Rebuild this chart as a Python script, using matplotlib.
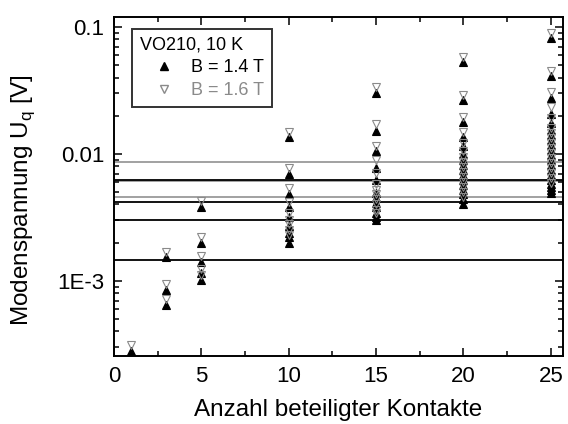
import matplotlib
matplotlib.use('Agg')
import matplotlib.pyplot as plt
from matplotlib.lines import Line2D
from matplotlib.ticker import FixedLocator, LogLocator, NullFormatter, MultipleLocator

plt.rcParams.update({'font.family': ['Liberation Sans', 'DejaVu Sans'],
                     'mathtext.fontset': 'custom', 'mathtext.rm': 'Liberation Sans',
                     'font.size': 16})

# ── Daten: Modenspannung je Anzahl beteiligter Kontakte ──
u_14T = {
    1: [2.8e-4],
    3: [1.54e-3, 8.4e-4, 6.4e-4],
    5: [3.83e-3, 1.99e-3, 1.41e-3, 1.16e-3, 1.02e-3],
    10: [0.0135, 0.0070, 0.0048, 0.0038, 0.0032, 0.0027, 0.0024, 0.0022, 0.0020],
    15: [0.0301, 0.0152, 0.0106, 0.0077, 0.0062, 0.0049, 0.0045, 0.0041, 0.0038,
         0.0034, 0.0032, 0.0030],
    20: [0.0527, 0.0266, 0.0178, 0.0135, 0.0116, 0.0100, 0.0090, 0.0082, 0.0075,
         0.0068, 0.0062, 0.0057, 0.0052, 0.0048, 0.0044, 0.0040],
    25: [0.0815, 0.0412, 0.0275, 0.0207, 0.0174, 0.0155, 0.0141, 0.0129, 0.0118,
         0.0107, 0.0098, 0.0090, 0.0082, 0.0075, 0.0068, 0.0062, 0.0058, 0.0055,
         0.0052, 0.0049],
}
u_16T = {
    1: [3.1e-4],
    3: [1.70e-3, 9.5e-4, 7.2e-4],
    5: [4.27e-3, 2.22e-3, 1.57e-3, 1.24e-3, 1.11e-3],
    10: [0.0150, 0.0077, 0.0054, 0.0042, 0.0034, 0.0030, 0.0028, 0.0025, 0.0023],
    15: [0.0339, 0.0171, 0.0116, 0.0090, 0.0071, 0.0058, 0.0052, 0.0048, 0.0044,
         0.0040, 0.0036, 0.0034],
    20: [0.0577, 0.0292, 0.0195, 0.0150, 0.0123, 0.0106, 0.0095, 0.0087, 0.0079,
         0.0072, 0.0066, 0.0060, 0.0055, 0.0050, 0.0046],
    25: [0.0902, 0.0453, 0.0310, 0.0233, 0.0191, 0.0160, 0.0146, 0.0134, 0.0122,
         0.0112, 0.0102, 0.0093, 0.0085, 0.0078, 0.0071, 0.0065, 0.0059],
}
# horizontale Linien (schwarz / grau)
hl_black = [0.00624, 0.00417, 0.00302, 0.00145]
hl_gray = [0.00870, 0.00607, 0.00461]

y_ticks = [1e-3, 0.01, 0.1]
y_ticklabels = ['1E-3', '0.01', '0.1']

GRAY = '#8a8a8a'

fig = plt.figure(figsize=(5.68, 4.24), dpi=100)
ax = fig.add_axes([0.2007, 0.1604, 0.7905, 0.7995])

for v in hl_gray:
    ax.axhline(v, color='#9a9a9a', lw=1.3, zorder=1)
for v in hl_black:
    ax.axhline(v, color='k', lw=1.3, zorder=1)

for n, vals in u_14T.items():
    ax.plot([n] * len(vals), vals, ls='none', marker='^', ms=5.8,
            mfc='k', mec='k', mew=0.8, zorder=3)
for n, vals in u_16T.items():
    ax.plot([n] * len(vals), vals, ls='none', marker='v', ms=5.8,
            mfc='none', mec=GRAY, mew=0.8, zorder=4)

ax.set_yscale('log')
ax.set_xlim(0, 25.7)
ax.set_ylim(2.56e-4, 0.12)
ax.xaxis.set_major_locator(MultipleLocator(5))
ax.xaxis.set_minor_locator(MultipleLocator(2.5))
ax.yaxis.set_major_locator(FixedLocator(y_ticks))
ax.set_yticklabels(y_ticklabels)
ax.yaxis.set_minor_locator(LogLocator(base=10, subs=range(2, 10)))
ax.yaxis.set_minor_formatter(NullFormatter())
ax.tick_params(which='both', direction='in', top=True, right=True, width=1.1)
ax.tick_params(which='major', length=6, pad=7, labelsize=16)
ax.tick_params(which='minor', length=3.5)
for s in ax.spines.values():
    s.set_linewidth(1.4)

ax.set_xlabel('Anzahl beteiligter Kontakte', fontsize=17.5, labelpad=9)
ax.set_ylabel('Modenspannung U$_\\mathregular{q}$ [V]', fontsize=17.5)
ax.yaxis.set_label_coords(-0.172, 0.46)

handles = [Line2D([], [], ls='none', marker='^', ms=6, mfc='k', mec='k'),
           Line2D([], [], ls='none', marker='v', ms=6, mfc='none', mec=GRAY)]
leg = ax.legend(handles, ['B = 1.4 T', 'B = 1.6 T'], title='VO210, 10 K',
                loc='upper left', bbox_to_anchor=(0.040, 0.965), fontsize=13,
                title_fontsize=13, alignment='left', frameon=True, fancybox=False,
                edgecolor='k', handlelength=2.6, handletextpad=0.2,
                labelspacing=0.3, borderpad=0.45, borderaxespad=0,
                labelcolor=['k', GRAY])
leg.get_frame().set_linewidth(1.4)

fig.savefig('out.png', dpi=100)
